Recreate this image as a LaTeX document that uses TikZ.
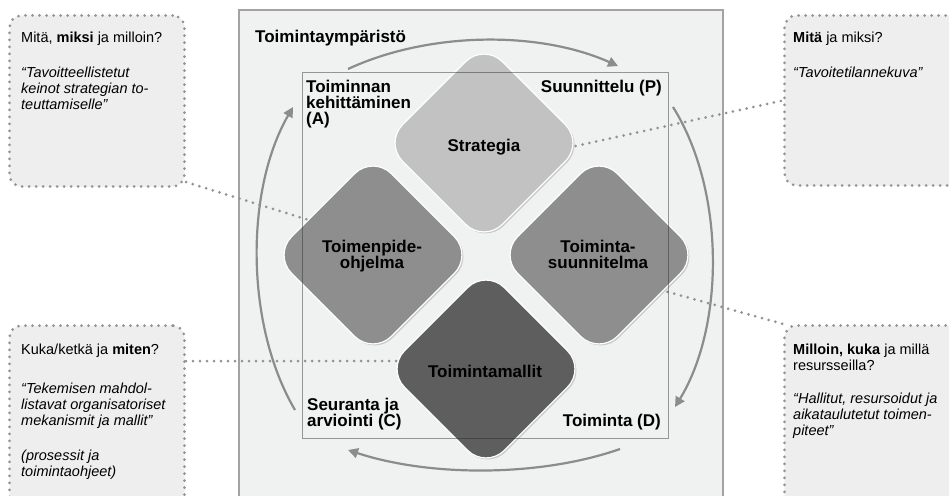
\documentclass[tikz,border=0pt]{standalone}
\usepackage{fontspec}
\setmainfont{Liberation Sans}
\usetikzlibrary{arrows.meta,shadows}
\definecolor{envfill}{HTML}{F0F1F1}
\definecolor{envline}{HTML}{A3A3A3}
\definecolor{notefill}{HTML}{EEEEEE}
\definecolor{dotgray}{HTML}{939393}
\definecolor{cyclegray}{HTML}{8C8C8C}
\definecolor{stratfill}{HTML}{C2C2C2}
\definecolor{midfill}{HTML}{8E8E8E}
\definecolor{darkfill}{HTML}{5E5E5E}

\begin{document}
\begin{tikzpicture}[x=1pt,y=-1pt,
  dots/.style={draw=dotgray, line width=3pt, line cap=round, dash pattern=on 0pt off 7pt},
  note/.style={dots, fill=notefill, rounded corners=12pt, anchor=north west, inner sep=0pt},
  notetext/.style={anchor=base west, inner sep=0pt, font=\fontsize{14.5}{16}\selectfont},
  phase/.style={inner sep=0pt, font=\fontsize{17}{16}\selectfont\bfseries},
  tile/.style={rectangle, rounded corners=26pt, minimum size=141pt, rotate=45,
    draw=white, line width=1.2pt,
    drop shadow={shadow xshift=1.5pt, shadow yshift=-1.5pt, opacity=0.35}},
  tiletext/.style={anchor=base, inner sep=0pt, font=\fontsize{17}{16}\selectfont\bfseries},
  cyclearrow/.style={draw=cyclegray, line width=2.2pt,
    -{Triangle[length=10pt,width=10pt]}},
]
\useasboundingbox (0,0) rectangle (949,495);
\clip (0,0) rectangle (949,495);

% operating environment
\draw[envline, fill=envfill, line width=1.2pt] (239,10) rectangle (723,520);
\node[phase, anchor=base west] (env) at (255,42) {Toimintaympäristö};

% question boxes
\node[note, minimum width=175pt, minimum height=171pt] (tlbox) at (8,14) {};
\node[note, minimum width=180pt, minimum height=170pt] (trbox) at (783,14) {};
\node[note, minimum width=175pt, minimum height=200pt] (blbox) at (8,324) {};
\node[note, minimum width=180pt, minimum height=200pt] (brbox) at (783,324) {};

\node[notetext] (tl1) at (21,43) {Mitä, \textbf{miksi} ja milloin?};
\node[notetext] (tl2) at (21,77) {\itshape “Tavoitteellistetut};
\node[notetext] (tl3) at (21,93) {\itshape keinot strategian to-};
\node[notetext] (tl4) at (21,109) {\itshape teuttamiselle”};

\node[notetext] (tr1) at (793,43) {\textbf{Mitä} ja miksi?};
\node[notetext] (tr2) at (793,77) {\itshape “Tavoitetilannekuva”};

\node[notetext] (bl1) at (21,354) {Kuka/ketkä ja \textbf{miten}?};
\node[notetext] (bl2) at (21,393) {\itshape “Tekemisen mahdol-};
\node[notetext] (bl3) at (21,409) {\itshape listavat organisatoriset};
\node[notetext] (bl4) at (21,425) {\itshape mekanismit ja mallit”};
\node[notetext] (bl5) at (21,460) {\itshape (prosessit ja};
\node[notetext] (bl6) at (21,476) {\itshape toimintaohjeet)};

\node[notetext] (br1) at (793,354) {\textbf{Milloin, kuka} ja millä};
\node[notetext] (br2) at (793,370) {resursseilla?};
\node[notetext] (br3) at (793,403) {\itshape “Hallitut, resursoidut ja};
\node[notetext] (br4) at (793,419) {\itshape aikataulutetut toimen-};
\node[notetext] (br5) at (793,435) {\itshape piteet”};

% dotted leaders (their inner ends are hidden under the tiles)
\coordinate (toOhjelma) at (312,221);
\coordinate (toStrat) at (562,149);
\coordinate (toMallit) at (420,361);
\coordinate (toSuunn) at (654,288);
\draw[dots] ([yshift=6pt]tlbox.south east) -- (toOhjelma);
\draw[dots] (toStrat) -- (trbox.west);
\draw[dots] ([yshift=-37pt]blbox.north east) -- (toMallit);
\draw[dots] (toSuunn) -- (brbox.north west);

% PDCA cycle arrows
\coordinate (pA) at (348,69);  \coordinate (pB) at (618,66);
\coordinate (pC) at (673,107); \coordinate (pD) at (675,407);
\coordinate (pE) at (620,449); \coordinate (pF) at (348,450);
\coordinate (pG) at (295,410); \coordinate (pH) at (293,107);
\draw[cyclearrow] (pA) .. controls (430,31) and (540,31) .. (pB);
\draw[cyclearrow] (pC) .. controls (725,190) and (725,325) .. (pD);
\draw[cyclearrow] (pE) .. controls (540,477) and (430,477) .. (pF);
\draw[cyclearrow] (pG) .. controls (245,325) and (245,190) .. (pH);

% tiles
\node[tile, fill=stratfill] (strat) at (484,143) {};
\node[tile, fill=midfill] (ohjelma) at (373,255) {};
\node[tile, fill=midfill] (suunn) at (599,255) {};
\node[tile, fill=darkfill] (mallit) at (486,369) {};

\node[tiletext] (stratT) at (484,151) {Strategia};
\node[tiletext] (ohjelmaT1) at (372,252) {Toimenpide-};
\node[tiletext] (ohjelmaT2) at (372,268) {ohjelma};
\node[tiletext] (suunnT1) at (598,252) {Toiminta-};
\node[tiletext] (suunnT2) at (598,268) {suunnitelma};
\node[tiletext] (mallitT) at (485,377) {Toimintamallit};

% inner frame, drawn over the tiles
\draw[black!85, draw opacity=0.45, line width=1pt] (302,72) rectangle (668,438);

% phase labels
\node[phase, anchor=base west] (actA1) at (306,92) {Toiminnan};
\node[phase, anchor=base west] (actA2) at (306,108) {kehittäminen};
\node[phase, anchor=base west] (actA3) at (306,124) {(A)};
\node[phase, anchor=base east] (planP) at (662,92) {Suunnittelu (P)};
\node[phase, anchor=base west] (checkC1) at (307,410) {Seuranta ja};
\node[phase, anchor=base west] (checkC2) at (307,426) {arviointi (C)};
\node[phase, anchor=base east] (doD) at (661,426) {Toiminta (D)};
\end{tikzpicture}
\end{document}
